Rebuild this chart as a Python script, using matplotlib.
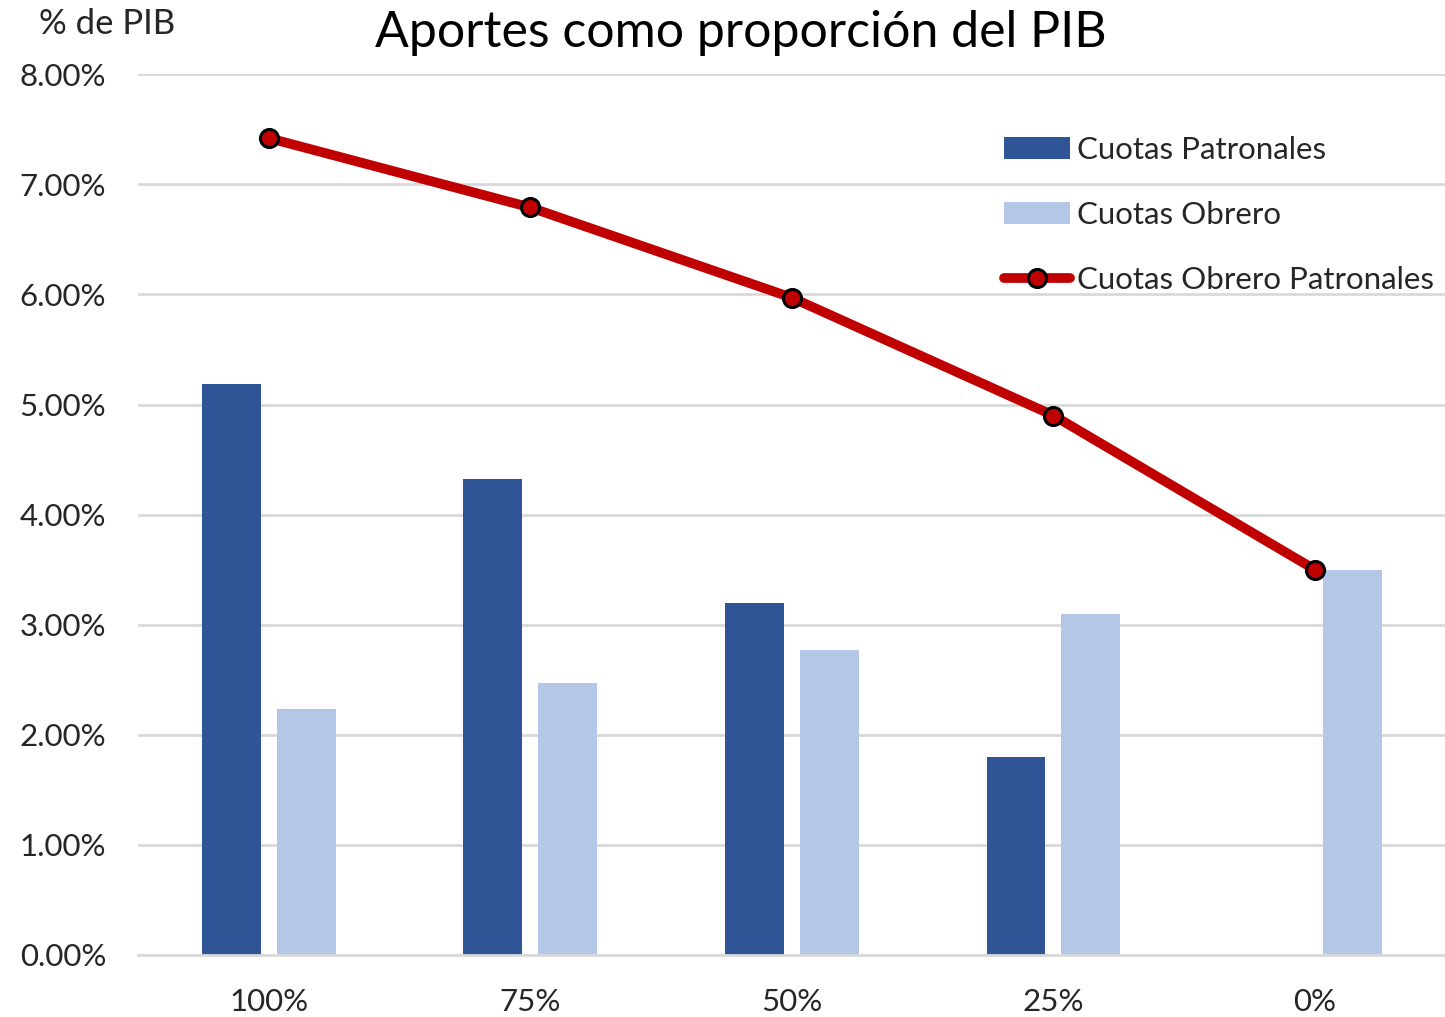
import matplotlib.pyplot as plt
import numpy as np

plt.rcParams['font.family'] = ['Lato', 'DejaVu Sans']

categorias = ['100%', '75%', '50%', '25%', '0%']
cuotas_patronales = [5.19, 4.32, 3.20, 1.80, 0.0]
cuotas_obrero = [2.23, 2.47, 2.77, 3.10, 3.50]
cuotas_obrero_patronales = [7.42, 6.79, 5.97, 4.90, 3.50]

x = np.arange(len(categorias))
ancho = 0.225
desp = 0.143

fig = plt.figure(figsize=(14.45, 10.17), dpi=100)
ax = fig.add_axes([0.0955, 0.061, 0.905, 0.866])

ax.bar(x - desp, cuotas_patronales, ancho, color='#2F5597', label='Cuotas Patronales', zorder=2)
ax.bar(x + desp, cuotas_obrero, ancho, color='#B4C7E7', label='Cuotas Obrero', zorder=2)
ax.plot(x, cuotas_obrero_patronales, color='#C00000', lw=7, marker='o', ms=13,
        mfc='#C00000', mec='black', mew=2.2, solid_capstyle='round',
        label='Cuotas Obrero Patronales', zorder=3)

ax.set_xlim(-0.5, 4.5)
ax.set_ylim(0, 8)
ax.set_yticks(np.arange(0, 9, 1))
ax.set_yticklabels(['%.2f%%' % v for v in np.arange(0, 9, 1)])
ax.set_xticks(x)
ax.set_xticklabels(categorias)
ax.grid(axis='y', color='#D9D9D9', lw=2, zorder=0)
for s in ['top', 'right', 'left']:
    ax.spines[s].set_visible(False)
ax.spines['bottom'].set_color('#D9D9D9')
ax.spines['bottom'].set_linewidth(2)
ax.tick_params(length=0, labelsize=22.5, colors='#262626')
ax.tick_params(axis='x', pad=24)
ax.tick_params(axis='y', pad=23)

fig.text(0.513, 0.968, 'Aportes como proporción del PIB', ha='center', va='center',
         fontsize=36, color='black')
fig.text(0.027, 0.976, '% de PIB', ha='left', va='center', fontsize=25, color='#262626')

h, l = ax.get_legend_handles_labels()
orden = [1, 2, 0]
ax.legend([h[i] for i in orden], [l[i] for i in orden],
          loc='upper left', bbox_to_anchor=(0.695, 0.866), bbox_transform=fig.transFigure,
          frameon=False, fontsize=22.5, handlelength=2.1, handletextpad=0.22,
          labelspacing=1.18, borderaxespad=0, borderpad=0, labelcolor='#262626')

fig.savefig('out.png', dpi=100)
